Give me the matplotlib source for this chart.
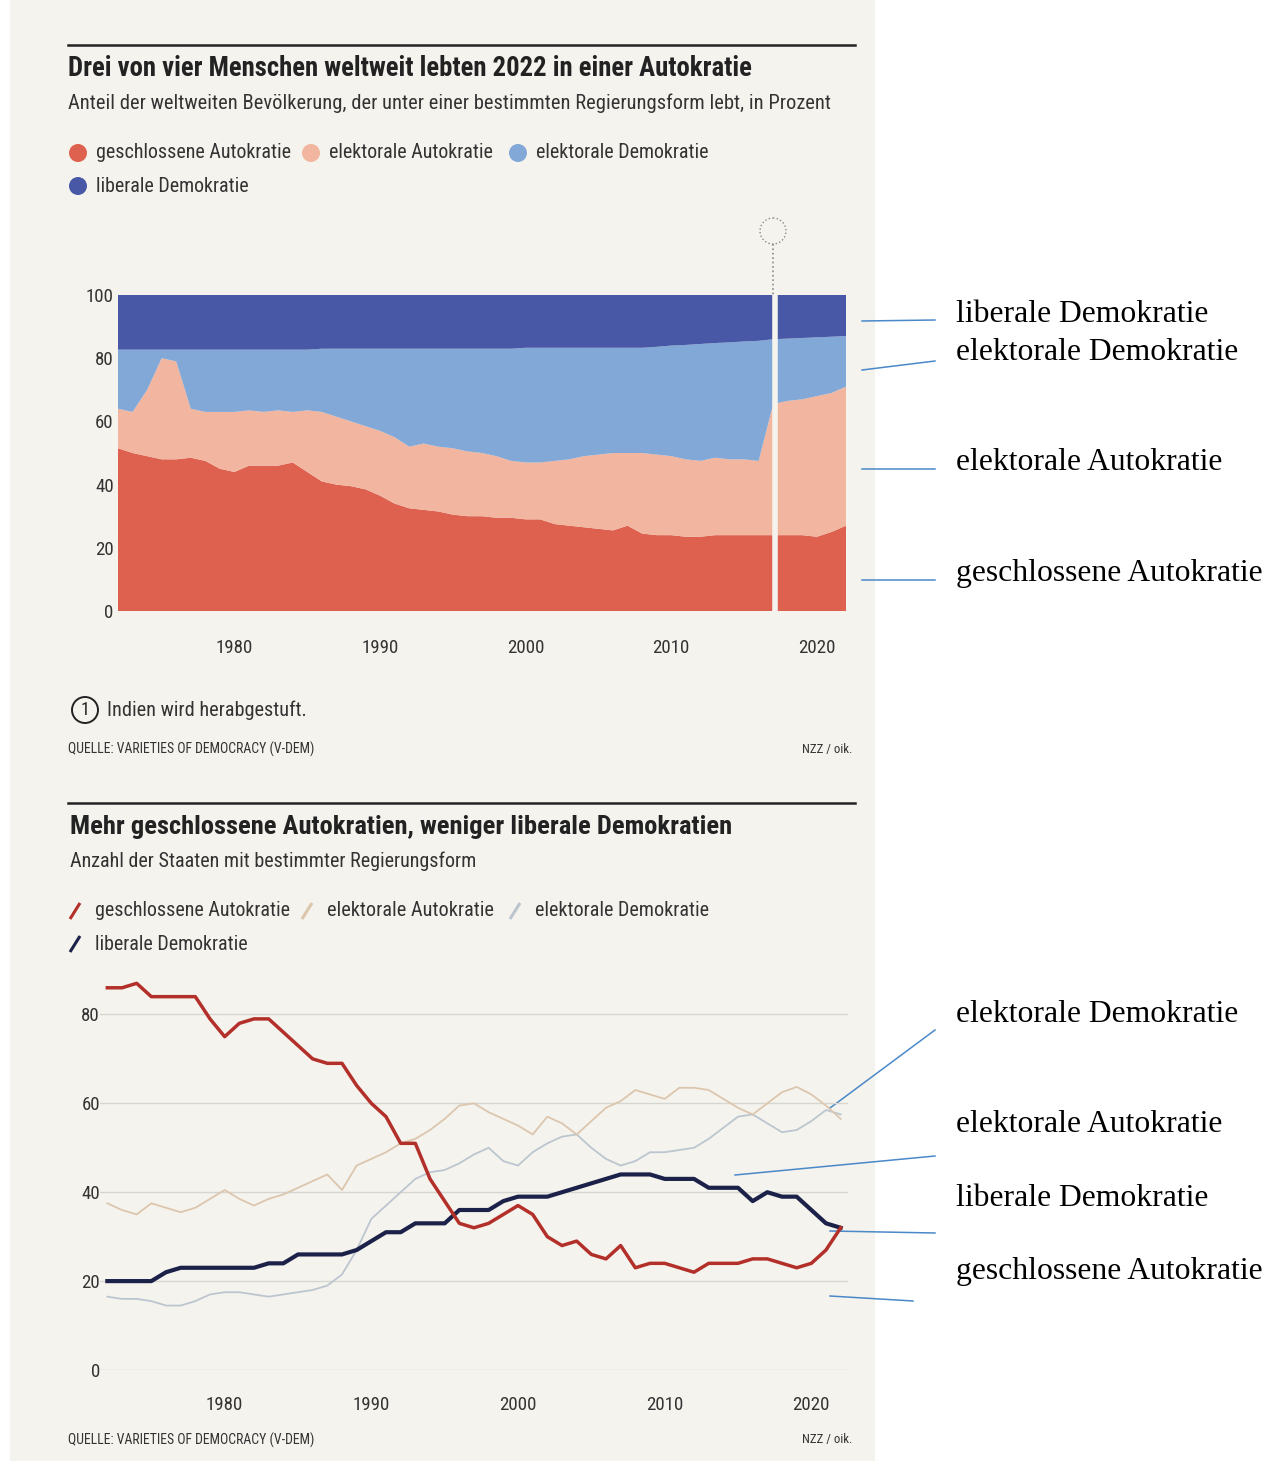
#!/usr/bin/env python3

import numpy as np
from matplotlib import pyplot as plt
from matplotlib import font_manager
from matplotlib.patches import Circle, Rectangle

W, H = 1283, 1461

years = np.arange(1972, 2023)
categories = ['geschlossene Autokratie', 'elektorale Autokratie',
              'elektorale Demokratie', 'liberale Demokratie']

### Top chart: share of world population, percent
share_closed = [51.5, 50, 49, 48, 48, 48.5, 47.5, 45, 44, 46,
                46, 46, 47, 44, 41, 40, 39.5, 38.5, 36.5, 34,
                32.5, 32, 31.5, 30.5, 30, 30, 29.5, 29.5, 29, 29,
                27.5, 27, 26.5, 26, 25.5, 27, 24.5, 24, 24, 23.5,
                23.5, 24, 24, 24, 24, 24, 24, 24, 23.5, 25, 27]
share_el_auto = [12.5, 13, 21, 32, 31, 15.5, 15.5, 18, 19, 17.5,
                 17, 17.5, 16, 19.5, 22, 21.5, 20.5, 20, 20.5, 21,
                 19.5, 21, 20.5, 21, 20.5, 20, 19.5, 18, 18, 18,
                 20, 21, 22.5, 23.5, 24.5, 23, 25.5, 25.5, 25, 24.5,
                 24, 24.5, 24, 24, 23.5, 41.5, 42.5, 43, 44.5, 44, 44]
share_el_demo = [18.7, 19.7, 12.7, 2.7, 3.7, 18.7, 19.7, 19.7, 19.7, 19.2,
                 19.7, 19.2, 19.7, 19.2, 20, 21.5, 23, 24.5, 26, 28,
                 31, 30, 31, 31.5, 32.5, 33, 34, 35.5, 36.3, 36.3,
                 35.8, 35.3, 34.3, 33.8, 33.3, 33.3, 33.3, 34.1, 35, 36.2,
                 37, 36.3, 37, 37.3, 38, 20.5, 19.7, 19.4, 18.6, 17.8, 16]
share_liberal = [17.3, 17.3, 17.3, 17.3, 17.3, 17.3, 17.3, 17.3, 17.3, 17.3,
                 17.3, 17.3, 17.3, 17.3, 17, 17, 17, 17, 17, 17,
                 17, 17, 17, 17, 17, 17, 17, 17, 16.7, 16.7,
                 16.7, 16.7, 16.7, 16.7, 16.7, 16.7, 16.7, 16.4, 16, 15.8,
                 15.5, 15.2, 15, 14.7, 14.5, 14, 13.8, 13.6, 13.4, 13.2, 13]

### Bottom chart: number of countries
n_closed = [86, 86, 87, 84, 84, 84, 84, 79, 75, 78,
            79, 79, 76, 73, 70, 69, 69, 64, 60, 57,
            51, 51, 43, 38, 33, 32, 33, 35, 37, 35,
            30, 28, 29, 26, 25, 28, 23, 24, 24, 23,
            22, 24, 24, 24, 25, 25, 24, 23, 24, 27, 32]
n_el_auto = [37.5, 36, 35, 37.5, 36.5, 35.5, 36.5, 38.5, 40.5, 38.5,
             37, 38.5, 39.5, 41, 42.5, 44, 40.5, 46, 47.5, 49,
             51, 52, 54, 56.5, 59.5, 60, 58, 56.5, 55, 53,
             57, 55.5, 53, 56, 59, 60.5, 63, 62, 61, 63.5,
             63.5, 63, 61, 59, 57.5, 60, 62.5, 63.7, 62, 59.5, 56.5]
n_el_demo = [16.5, 16, 16, 15.5, 14.5, 14.5, 15.5, 17, 17.5, 17.5,
             17, 16.5, 17, 17.5, 18, 19, 21.5, 27, 34, 37,
             40, 43, 44.5, 45, 46.5, 48.5, 50, 47, 46, 49,
             51, 52.5, 53, 50, 47.5, 46, 47, 49, 49, 49.5,
             50, 52, 54.5, 57, 57.5, 55.5, 53.5, 54, 56, 58.5, 57.5]
n_liberal = [20, 20, 20, 20, 22, 23, 23, 23, 23, 23,
             23, 24, 24, 26, 26, 26, 26, 27, 29, 31,
             31, 33, 33, 33, 36, 36, 36, 38, 39, 39,
             39, 40, 41, 42, 43, 44, 44, 44, 43, 43,
             43, 41, 41, 41, 38, 40, 39, 39, 36, 33, 32]

india_year = 2017.15
xticks = [1980, 1990, 2000, 2010, 2020]

area_cols = ['#de6150', '#f1b5a0', '#82a8d8', '#4858a6']
line_cols = ['#b3302a', '#dcc6ae', '#bcc6d0', '#1c2149']
paper = '#f5f3ed'
ink = '#222222'
grey_ink = '#333333'
note_blue = '#4a88c9'

names = {f.name for f in font_manager.fontManager.ttflist}
narrow = next((n for n in ['Liberation Sans Narrow', 'DejaVu Sans Condensed',
                           'Roboto Condensed', 'Open Sans Condensed', 'Liberation Sans']
               if n in names), 'DejaVu Sans')
serif = 'Liberation Serif'


def ax_box(x0, y0, x1, y1):
    return [x0 / W, 1 - y1 / H, (x1 - x0) / W, (y1 - y0) / H]


fig = plt.figure(figsize=(W / 100, H / 100), dpi=100)
fig.patch.set_facecolor('white')
renderer = fig.canvas.get_renderer()

# pixel-space overlay for texts, legends, notes
bg = fig.add_axes([0, 0, 1, 1], zorder=0)
bg.set_xlim(0, W)
bg.set_ylim(H, 0)
bg.axis('off')
bg.add_patch(Rectangle((10, 0), 865, H, fc=paper, ec='none'))


def txt(x, y, s, width, weight='normal', ha='left', color=grey_ink, family=narrow):
    # size the text so that it spans the same width as in the newspaper
    t = bg.text(x, y, s, fontsize=10, fontweight=weight, ha=ha, va='center',
                color=color, family=family)
    w = t.get_window_extent(renderer).width
    t.set_fontsize(10 * width / w)
    return t


probe = bg.text(0, 0, '1980', fontsize=10, family=narrow)
tick_size = 10 * 37 / probe.get_window_extent(renderer).width
probe.remove()

### Top section
bg.plot([68, 855], [45, 45], color=ink, lw=1.8)
txt(68, 69, 'Drei von vier Menschen weltweit lebten 2022 in einer Autokratie', 687, 'bold', color=ink)
txt(68, 103, 'Anteil der weltweiten Bevölkerung, der unter einer bestimmten Regierungsform lebt, in Prozent', 752)

leg_top = [(78, 153, 193), (311, 153, 163), (518, 153, 172), (78, 186, 152)]
for (lx, ly, lw_), lab, c in zip(leg_top, categories, area_cols):
    bg.add_patch(Circle((lx, ly), 9, fc=c, ec='none'))
    txt(lx + 18, ly, lab, lw_)

# note marker above the plot
bg.add_patch(Circle((773, 231), 13, fc='none', ec='#8a8a8a', lw=1, ls=':'))
bg.plot([773, 773], [244, 295], color='#8a8a8a', lw=1.2, ls=':')

ax1 = fig.add_axes(ax_box(118, 295, 846, 611), zorder=2)
ax1.set_facecolor('none')
ax1.stackplot(years, share_closed, share_el_auto, share_el_demo, share_liberal,
              colors=area_cols, lw=0)
ax1.axvline(india_year, color=paper, lw=4)
ax1.set_xlim(years[0], years[-1])
ax1.set_ylim(0, 100)
ax1.set_xticks(xticks)
ax1.set_yticks(range(0, 101, 20))
for s in ax1.spines.values():
    s.set_visible(False)
ax1.tick_params(length=0, labelsize=tick_size, labelcolor=grey_ink)
ax1.tick_params(axis='x', pad=20)
ax1.tick_params(axis='y', pad=3)
for t in ax1.get_xticklabels() + ax1.get_yticklabels():
    t.set_family(narrow)

bg.add_patch(Circle((85, 710), 13, fc='none', ec=ink, lw=1.4))
bg.text(85, 710, '1', fontsize=13, ha='center', va='center', color=ink, family=narrow)
txt(107, 710, 'Indien wird herabgestuft.', 198)
txt(68, 749, 'QUELLE: VARIETIES OF DEMOCRACY (V-DEM)', 248)
txt(852, 749, 'NZZ / oik.', 50, ha='right')

### Bottom section
bg.plot([68, 855], [803, 803], color=ink, lw=1.8)
txt(70, 827, 'Mehr geschlossene Autokratien, weniger liberale Demokratien', 660, 'bold', color=ink)
txt(70, 861, 'Anzahl der Staaten mit bestimmter Regierungsform', 403)

leg_bot = [(75, 911, 193), (307, 911, 165), (515, 911, 173), (75, 944, 152)]
for (lx, ly, lw_), lab, c in zip(leg_bot, categories, line_cols):
    bg.plot([lx - 5, lx + 5], [ly + 8, ly - 8], color=c, lw=2.2, solid_capstyle='butt')
    txt(lx + 20, ly, lab, lw_)

ax2 = fig.add_axes(ax_box(100, 970, 848, 1370), zorder=2)
ax2.set_facecolor('none')
for v in range(0, 81, 20):
    ax2.axhline(v, color='#d6d5d0', lw=1, zorder=0)
ax2.plot(years, n_el_demo, color=line_cols[2], lw=1.3)
ax2.plot(years, n_el_auto, color=line_cols[1], lw=1.3)
ax2.plot(years, n_liberal, color=line_cols[3], lw=3)
ax2.plot(years, n_closed, color=line_cols[0], lw=2.5)
ax2.set_xlim(1971.5, 2022.5)
ax2.set_ylim(0, 90)
ax2.set_xticks(xticks)
ax2.set_yticks(range(0, 81, 20))
for s in ax2.spines.values():
    s.set_visible(False)
ax2.tick_params(length=0, labelsize=tick_size, labelcolor=grey_ink)
ax2.tick_params(axis='x', pad=19)
ax2.tick_params(axis='y', pad=0)
for t in ax2.get_xticklabels() + ax2.get_yticklabels():
    t.set_family(narrow)

txt(68, 1440, 'QUELLE: VARIETIES OF DEMOCRACY (V-DEM)', 246)
txt(852, 1440, 'NZZ / oik.', 50, ha='right')

### Hand-written labels on the right
notes_top = [('liberale Demokratie', 315, (862, 321), (935, 320)),
             ('elektorale Demokratie', 352, (862, 370), (935, 361)),
             ('elektorale Autokratie', 462, (862, 469), (935, 469)),
             ('geschlossene Autokratie', 573, (862, 580), (935, 580))]
notes_bot = [('elektorale Demokratie', 1014, (830, 1108), (935, 1030)),
             ('elektorale Autokratie', 1125, (735, 1175), (935, 1156)),
             ('liberale Demokratie', 1198, (830, 1231), (935, 1233)),
             ('geschlossene Autokratie', 1272, (830, 1296), (913, 1301))]
for lab, ty, p0, p1 in notes_top + notes_bot:
    bg.plot([p0[0], p1[0]], [p0[1], p1[1]], color=note_blue, lw=1.1)
    bg.text(956, ty, lab, fontsize=22.8, ha='left', va='center', color='black', family=serif)

fig.savefig('out.png', dpi=100, facecolor=fig.get_facecolor())
